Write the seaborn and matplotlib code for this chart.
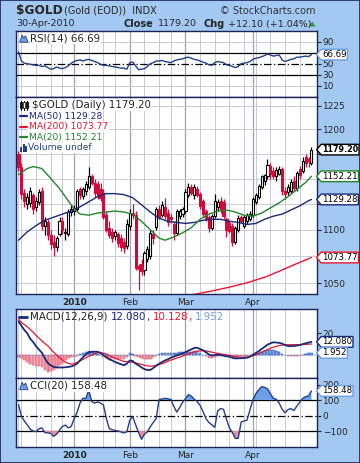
import numpy as np
import pandas as pd
import matplotlib
matplotlib.use("Agg")
import matplotlib.pyplot as plt
import seaborn as sns
from matplotlib.path import Path
from matplotlib.patches import Polygon, Rectangle

sns.set_theme(style="white")
plt.rcParams['font.family'] = ['DejaVu Sans']

# ---------------- data ----------------
all_days = pd.bdate_range("2009-12-04", "2010-04-30")
holidays = pd.to_datetime(["2009-12-25", "2010-01-01", "2010-01-18", "2010-02-15", "2010-04-02"])
dates = all_days.drop(holidays)

opens = [1175, 1162, 1136, 1125, 1126, 1134, 1122, 1127, 1138, 1104, 1107, 1095, 1088, 1084, 1096, 1108, 1097, 1096, 1117,
         1118, 1120, 1140, 1133, 1138, 1142, 1152, 1146, 1145, 1140, 1136, 1114, 1102, 1098, 1094, 1096, 1092, 1088, 1085,
         1104, 1116, 1114, 1066, 1068, 1062, 1072, 1075, 1096, 1103, 1120, 1114, 1122, 1116, 1112, 1105, 1097, 1113, 1115,
         1118, 1134, 1142, 1134, 1140, 1135, 1128, 1118, 1112, 1102, 1113, 1122, 1128, 1127, 1110, 1106, 1104, 1088, 1100,
         1112, 1104, 1108, 1110, 1114, 1127, 1132, 1142, 1148, 1152, 1163, 1158, 1152, 1155, 1160, 1138, 1137, 1138, 1148,
         1141, 1160, 1158, 1172, 1170, 1166]
highs = [1178, 1166, 1140, 1136, 1142, 1136, 1132, 1140, 1142, 1112, 1110, 1100, 1095, 1094, 1112, 1112, 1102, 1120, 1124,
         1124, 1140, 1142, 1142, 1148, 1162, 1155, 1150, 1148, 1146, 1140, 1118, 1108, 1102, 1100, 1098, 1096, 1092, 1110,
         1120, 1125, 1118, 1068, 1072, 1080, 1085, 1100, 1100, 1122, 1124, 1128, 1131, 1120, 1115, 1108, 1120, 1120, 1122,
         1140, 1146, 1145, 1145, 1143, 1137, 1130, 1120, 1114, 1115, 1135, 1130, 1132, 1130, 1112, 1108, 1106, 1104, 1114,
         1114, 1114, 1116, 1118, 1132, 1136, 1145, 1154, 1155, 1170, 1166, 1162, 1162, 1163, 1162, 1142, 1145, 1150, 1152,
         1158, 1163, 1172, 1175, 1172, 1182]
lows = [1158, 1130, 1122, 1120, 1122, 1115, 1118, 1124, 1100, 1095, 1090, 1082, 1075, 1080, 1094, 1096, 1090, 1094, 1113,
        1114, 1118, 1130, 1130, 1134, 1140, 1144, 1132, 1130, 1128, 1110, 1098, 1092, 1088, 1090, 1084, 1080, 1078, 1082,
        1100, 1110, 1062, 1044, 1058, 1058, 1070, 1072, 1086, 1100, 1110, 1112, 1110, 1104, 1106, 1090, 1095, 1110, 1112,
        1116, 1132, 1134, 1130, 1132, 1120, 1112, 1108, 1098, 1100, 1111, 1118, 1116, 1110, 1093, 1097, 1085, 1086, 1098,
        1106, 1102, 1105, 1108, 1112, 1125, 1130, 1140, 1144, 1150, 1150, 1150, 1148, 1153, 1134, 1130, 1134, 1136, 1138,
        1138, 1150, 1156, 1162, 1162, 1164]
closes = [1162, 1135, 1128, 1132, 1138, 1120, 1128, 1137, 1104, 1108, 1095, 1086, 1084, 1092, 1108, 1100, 1098, 1117, 1120,
          1121, 1138, 1134, 1140, 1145, 1152, 1146, 1136, 1133, 1131, 1112, 1100, 1095, 1092, 1098, 1087, 1084, 1083, 1105,
          1116, 1114, 1064, 1063, 1061, 1078, 1082, 1097, 1092, 1120, 1112, 1124, 1113, 1107, 1110, 1097, 1118, 1118, 1120,
          1137, 1142, 1136, 1142, 1134, 1123, 1115, 1110, 1102, 1113, 1128, 1127, 1120, 1113, 1100, 1099, 1088, 1102, 1111,
          1108, 1112, 1114, 1115, 1130, 1134, 1143, 1152, 1153, 1164, 1155, 1152, 1159, 1160, 1138, 1135, 1142, 1147, 1141,
          1156, 1153, 1168, 1166, 1167.1, 1179.2]

ma20_idx = [0, 3, 5, 8, 11, 14, 17, 19, 21, 24, 27, 30, 33, 36, 39, 42, 45, 48, 50, 53, 56, 59, 62, 65, 68, 71, 74, 77,
            80, 83, 86, 89, 92, 95, 98, 100]
ma20_val = [1154, 1160, 1162, 1160, 1150, 1140, 1128, 1120, 1115, 1114, 1116, 1117, 1118, 1117, 1115, 1108, 1100, 1092,
            1090, 1093, 1097, 1102, 1110, 1115, 1118, 1119, 1117, 1114, 1113, 1116, 1121, 1126, 1132, 1139, 1146, 1152.21]
ma50_idx = [0, 3, 6, 9, 12, 15, 18, 21, 24, 27, 30, 33, 36, 39, 42, 45, 48, 51, 54, 57, 60, 63, 66, 69, 72, 75, 78, 81,
            84, 87, 90, 93, 96, 99, 100]
ma50_val = [1090, 1098, 1104, 1109, 1112, 1115, 1118, 1122, 1127, 1132, 1135, 1135, 1134, 1131, 1124, 1117, 1111, 1108,
            1107, 1106, 1107, 1109, 1110, 1110, 1108, 1107, 1105, 1106, 1110, 1113, 1115, 1119, 1123, 1128, 1129.28]
ma200_idx = [50, 55, 60, 66, 72, 78, 84, 89, 94, 100]
ma200_val = [1036, 1038, 1040, 1043, 1046.5, 1050.5, 1055.5, 1061, 1067, 1073.77]

rsi = [72, 55, 51, 50, 49, 48, 47, 47, 45, 46, 43, 40, 41, 44, 42, 41, 43, 46, 51, 54, 56, 57, 55, 57, 58, 56, 54, 52,
       49, 47, 47, 46, 45, 44, 43, 42, 42, 40, 52, 53, 46, 39, 40, 41, 45, 50, 52, 55, 55, 56, 54, 53, 52, 55, 57, 58, 59,
       61, 62, 60, 58, 57, 55, 53, 51, 48, 47, 52, 54, 53, 52, 48, 47, 45, 43, 45, 50, 51, 52, 54, 58, 60, 61, 63, 65, 68,
       66, 64, 65, 66, 57, 54, 56, 58, 59, 62, 62, 63, 64, 63, 66.69]

macd = [31, 27, 23, 20, 15, 12, 8, 5, 2, -3, -7.5, -9.5, -11, -11.5, -11.5, -11.5, -11.3, -11, -10.5, -9.5, -8, -5, -2,
        0.5, 2.5, 3, 3, 3, 2, 0, -2, -4, -5, -6.5, -7.5, -8.5, -9.5, -8, -5, -5.5, -8, -9.5, -11.5, -13, -13.8, -13.8,
        -12, -10, -8, -6.5, -5, -4, -2.5, -1.5, -0.5, 0.5, 1.5, 2.5, 4, 5.2, 6.5, 6.7, 5.5, 4.3, 2.5, 0.5, -0.5, 0, 0.3,
        0, -0.5, -1.2, -1.5, -2.5, -3.2, -3, -3, -2.8, -2.5, -1.5, 0, 1.8, 3.5, 5.5, 7.5, 9.5, 10.8, 11.7, 11.5, 11.2,
        10.5, 9, 8.3, 8.2, 8.3, 8.7, 9.2, 10, 10.8, 11.5, 12.08]
signal = [33, 30, 28, 26, 23.5, 21, 18, 15.5, 13, 10.5, 8.5, 5.5, 2.5, 0, -2.5, -4.5, -6.5, -7.8, -8.3, -8, -6.8, -5.5,
          -4, -2.5, -1.2, 0, 1.2, 2, 2, 1.7, 1, -0.5, -2, -3, -4, -5, -6, -6.3, -6.5, -6.8, -7.3, -8, -8.7, -9.5, -10,
          -10.3, -10.2, -9.5, -8.8, -8, -7, -5.8, -4.7, -3.8, -2.8, -2, -1, 0, 1, 2, 2.8, 3.4, 3.8, 4, 3.8, 3.2, 2.6, 2,
          1.5, 1, 0.5, 0, -0.5, -1, -1.5, -1.8, -2, -2.1, -2, -1.5, -0.8, 0.3, 1.3, 2.5, 3.8, 5, 6.2, 7.2, 8, 8.7, 9.2,
          9.4, 9.5, 9.5, 9.5, 9.5, 9.5, 9.6, 9.8, 10, 10.128]

cci = [70, -5, -35, -60, -88, -100, -104, -85, -80, -110, -112, -115, -135, -120, -95, -70, -62, -80, -70, -20, 20, 80,
       111, 110, 165, 89, 80, 88, 80, 68, -20, -85, -92, -96, -100, -106, -112, -105, -29, -8, -60, -110, -154, -120,
       -105, -72, -45, -20, 104, 106, 111, 108, 104, 60, 22, 50, 85, 108, 135, 125, 105, 90, 65, 25, -20, -45, -60, -76,
       30, 45, 40, -25, -80, -110, -147, -147, -42, -35, -30, 35, 100, 140, 165, 186, 182, 172, 140, 111, 105, 80, 40,
       18, 38, 45, 32, 60, 85, 110, 122, 126, 158.48]

month_labels = ["2010", "Feb", "Mar", "Apr"]

# ---------------- styling ----------------
BG = '#a3c8f2'
NAVY = '#1b2a7a'
LINE_BLUE = '#22418a'
RED = '#e8162e'
CANDLE_RED = '#d10a3c'
GREEN = '#23862a'
LIGHTBLUE = '#6e9fe6'
GRID = '#c9cbd8'
MGRID = '#9da0b0'
LBL = 7.4   # panel label font size

W, H = 360, 463
fig = plt.figure(figsize=(W / 100, H / 100), dpi=100, facecolor=BG)


def fx(px):
    return px / W


def fy(py):
    return 1 - py / H


def panel(top, bottom):
    return fig.add_axes([fx(16), fy(bottom), fx(317) - fx(16), fy(top) - fy(bottom)])


ax_rsi = panel(31, 97)
ax_px = panel(97, 294)
ax_macd = panel(309, 378)
ax_cci = panel(378, 447)
axes = [ax_rsi, ax_px, ax_macd, ax_cci]

idx = np.arange(len(dates))
wd = np.array([d.weekday() for d in dates])
week_starts = [i for i in idx if i == 0 or wd[i] < wd[i - 1]]
month_starts = [i for i in idx if i > 0 and dates[i].month != dates[i - 1].month]

XL = (-0.85, 101.9)
for ax in axes:
    ax.set_facecolor('white')
    ax.set_xlim(*XL)
    for i in week_starts:
        if i not in month_starts:
            ax.axvline(i, color=GRID, lw=0.7, zorder=0)
    for i in month_starts:
        ax.axvline(i, color=MGRID, lw=0.9, zorder=0)
    for s in ax.spines.values():
        s.set_color('#1a2457')
        s.set_linewidth(1.0)
    ax.yaxis.tick_right()
    ax.tick_params(axis='y', which='both', direction='out', length=3, width=0.8, color='#1a2457',
                   labelsize=6.5, pad=1, left=False, right=True, labelleft=False, labelright=True)
    ax.tick_params(axis='x', length=0, labelsize=6.5, pad=3)
    ax.set_xlabel('')
    ax.set_ylabel('')


def tag_box(x0, y0, width, height, mutation_size):
    pad = 0.1 * mutation_size
    x0 -= pad
    y0 -= pad
    width += 2 * pad
    height += 2 * pad
    x1, y1 = x0 + width, y0 + height
    tip = height * 0.42
    return Path([(x0, y0), (x1, y0), (x1, y1), (x0, y1), (x0 - tip, (y0 + y1) / 2), (x0, y0)], closed=True)


def tag(ax, y, text, ec, bold=False, size=6.2):
    ax.annotate(text, xy=(1.0, y), xycoords=('axes fraction', 'data'), xytext=(3.6, 0),
                textcoords='offset points', ha='left', va='center', fontsize=size,
                fontweight='bold' if bold else 'normal', color='black', annotation_clip=False,
                bbox=dict(boxstyle=tag_box, fc='white', ec=ec, lw=1.0), zorder=10)


def mountain_icon(ax, x, y):
    pts = [(0, 0), (0.3, 1), (0.5, 0.55), (0.7, 0.9), (1, 0)]
    xs = [x + p[0] * 0.028 for p in pts]
    ys = [y + p[1] * 0.11 for p in pts]
    ax.add_patch(Polygon(list(zip(xs, ys)), closed=True, transform=ax.transAxes, fc=LIGHTBLUE,
                         ec=LINE_BLUE, lw=0.6, zorder=6, clip_on=False))


# ---------------- RSI ----------------
ax_rsi.set_ylim(-11, 110)
for v in (10, 90):
    ax_rsi.axhline(v, color=GRID, lw=0.7, zorder=0)
ax_rsi.axhline(70, color='black', lw=0.9, zorder=1)
ax_rsi.axhline(30, color='black', lw=0.9, zorder=1)
ax_rsi.axhline(50, color='black', lw=0.9, ls=(0, (6, 2, 1, 2)), zorder=1)
sns.lineplot(x=idx, y=rsi, ax=ax_rsi, color=LINE_BLUE, lw=1.0, zorder=3)
ax_rsi.set_yticks([10, 30, 50, 70, 90])
ax_rsi.set_yticklabels(['10', '30', '50', '', '90'])
ax_rsi.set_xticks([])
mountain_icon(ax_rsi, 0.012, 0.83)
ax_rsi.text(0.048, 0.885, "RSI(14) 66.69", transform=ax_rsi.transAxes, fontsize=LBL, va='center', ha='left',
            bbox=dict(fc='white', ec='none', pad=0.5), zorder=5)
tag(ax_rsi, 66.69, "66.69", LIGHTBLUE)

# ---------------- Price ----------------
ax_px.set_yscale('log')
ax_px.set_ylim(1040.3, 1234.3)
pticks = [1050, 1075, 1100, 1125, 1150, 1175, 1200, 1225]
plabels = ['1050', '', '1100', '', '', '', '1200', '1225']
ax_px.yaxis.set_major_locator(matplotlib.ticker.FixedLocator(pticks))
ax_px.yaxis.set_major_formatter(matplotlib.ticker.FixedFormatter(plabels))
ax_px.yaxis.set_minor_locator(matplotlib.ticker.NullLocator())
for t in pticks:
    ax_px.axhline(t, color=GRID, lw=0.7, zorder=0)

o = np.array(opens, float)
c = np.array(closes, float)
h = np.array(highs, float)
l = np.array(lows, float)
up = c >= o
wick_col = np.where(up, 'black', CANDLE_RED)
ax_px.vlines(idx, l, h, colors=wick_col, lw=0.9, zorder=3)
body_lo = np.minimum(o, c)
body_h = np.maximum(np.abs(c - o), 0.8)
ax_px.bar(idx[up], body_h[up], bottom=body_lo[up], width=0.72, color='white', edgecolor='black', lw=0.8, zorder=4)
ax_px.bar(idx[~up], body_h[~up], bottom=body_lo[~up], width=0.72, color=CANDLE_RED, edgecolor=CANDLE_RED, lw=0.8,
          zorder=4)

sns.lineplot(x=ma50_idx, y=ma50_val, ax=ax_px, color=NAVY, lw=1.0, zorder=5)
sns.lineplot(x=ma20_idx, y=ma20_val, ax=ax_px, color=GREEN, lw=1.0, zorder=5)
sns.lineplot(x=ma200_idx, y=ma200_val, ax=ax_px, color=RED, lw=1.0, zorder=5)

ax_px.set_xticks(month_starts)
ax_px.set_xticklabels(month_labels)
ax_px.get_xticklabels()[0].set_fontweight('bold')


def ay(py):
    return (294 - py) / (294 - 97)


def ax_x(px):
    return (px - 16) / (317 - 16)


ax_px.text(ax_x(31.5), ay(105), "$GOLD (Daily) 1179.20", transform=ax_px.transAxes, fontsize=LBL, va='center',
           ha='left', bbox=dict(fc='white', ec='none', pad=0.4), zorder=7)
for k in range(3):
    xx = ax_x(21 + k * 3)
    ax_px.plot([xx, xx], [ay(109.5), ay(100.5)], transform=ax_px.transAxes, color='black', lw=0.8, zorder=7)
    ax_px.add_patch(Rectangle((xx - 0.003, ay(108)), 0.006, (ay(102) - ay(108)), transform=ax_px.transAxes,
                              fc='black' if k != 1 else 'white', ec='black', lw=0.5, zorder=7))
leg_y = [116, 126.7, 137.3]
entries = [("MA(50) 1129.28", NAVY), ("MA(200) 1073.77", RED), ("MA(20) 1152.21", GREEN)]
for (txt, col), py in zip(entries, leg_y):
    ax_px.plot([ax_x(19.5), ax_x(27)], [ay(py), ay(py)], transform=ax_px.transAxes, color=col, lw=1.6, zorder=7)
    ax_px.text(ax_x(29), ay(py), txt, transform=ax_px.transAxes, fontsize=6.6, va='center', ha='left', color=col,
               bbox=dict(fc='white', ec='none', pad=0.4), zorder=7)
for k, hh in enumerate([5, 8, 6]):
    ax_px.add_patch(Rectangle((ax_x(20 + k * 2.5), ay(151.5)), ax_x(18) - ax_x(16),
                              ay(151.5 - hh) - ay(151.5), transform=ax_px.transAxes, fc=LINE_BLUE, ec='none',
                              zorder=7))
ax_px.text(ax_x(28.5), ay(148), "Volume undef", transform=ax_px.transAxes, fontsize=6.6, va='center', ha='left',
           color=LINE_BLUE, bbox=dict(fc='white', ec='none', pad=0.4), zorder=7)

tag(ax_px, 1073.77, "1073.77", RED)
tag(ax_px, 1129.28, "1129.28", NAVY)
tag(ax_px, 1152.21, "1152.21", GREEN)
tag(ax_px, 1179.20, "1179.20", 'black', bold=True, size=5.8)

# ---------------- MACD ----------------
ax_macd.set_ylim(-21.2, 42.4)
macd_a = np.array(macd, float)
sig_a = np.array(signal, float)
hist = macd_a - sig_a
pos = hist >= 0
ax_macd.bar(idx[pos], hist[pos], width=0.85, color='#7fa8ea', edgecolor='#2a4a9a', lw=0.35, zorder=2)
ax_macd.bar(idx[~pos], hist[~pos], width=0.85, color='#f3a2ad', edgecolor='#d8405a', lw=0.35, zorder=2)
ax_macd.axhline(0, color=LIGHTBLUE, lw=0.9, ls=':', zorder=2)
sns.lineplot(x=idx, y=signal, ax=ax_macd, color=RED, lw=0.9, zorder=3)
sns.lineplot(x=idx, y=macd, ax=ax_macd, color=NAVY, lw=1.3, zorder=4)
ax_macd.set_yticks([0, 20])
ax_macd.set_yticklabels(['', '20'])
ax_macd.set_xticks([])
ax_macd.plot([0.01, 0.036], [0.885, 0.885], transform=ax_macd.transAxes, color=NAVY, lw=2.0, zorder=6)
t1 = ax_macd.text(0.048, 0.885, "MACD(12,26,9) ", transform=ax_macd.transAxes, fontsize=LBL, va='center',
                  ha='left', zorder=6)
pieces = [("12.080", NAVY), (", ", NAVY), ("10.128", RED), (", ", RED), ("1.952", LIGHTBLUE)]
prev = t1
for txt, col in pieces:
    prev = ax_macd.annotate(txt, xy=(1, 0), xycoords=prev, va='bottom', ha='left', fontsize=LBL, color=col,
                            zorder=6)
tag(ax_macd, 12.08, "12.080", NAVY)
tag(ax_macd, 1.952, "1.952", LIGHTBLUE)

# ---------------- CCI ----------------
ax_cci.set_ylim(-203, 242)
cci_a = np.array(cci, float)
ax_cci.fill_between(idx, cci_a, 100, where=cci_a > 100, interpolate=True, color='#6e9fe6', lw=0, zorder=2)
ax_cci.fill_between(idx, cci_a, -100, where=cci_a < -100, interpolate=True, color='#ec8d9b', lw=0, zorder=2)
ax_cci.axhline(100, color='black', lw=0.9, zorder=1)
ax_cci.axhline(-100, color='black', lw=0.9, zorder=1)
ax_cci.axhline(0, color='black', lw=0.9, ls=(0, (6, 2, 1, 2)), zorder=1)
sns.lineplot(x=idx, y=cci, ax=ax_cci, color=LINE_BLUE, lw=1.0, zorder=3)
ax_cci.set_yticks([-100, 0, 100, 200])
ax_cci.set_xticks(month_starts)
ax_cci.set_xticklabels(month_labels)
ax_cci.get_xticklabels()[0].set_fontweight('bold')
mountain_icon(ax_cci, 0.012, 0.83)
ax_cci.text(0.048, 0.885, "CCI(20) 158.48", transform=ax_cci.transAxes, fontsize=LBL, va='center', ha='left',
            bbox=dict(fc='white', ec='none', pad=0.5), zorder=5)
tag(ax_cci, 158.48, "158.48", LIGHTBLUE)

# ---------------- header ----------------
fig.text(fx(16), fy(10.5), "$GOLD", fontsize=8.7, fontweight='bold', va='center', ha='left')
fig.text(fx(63.5), fy(10.5), "(Gold (EOD))  INDX", fontsize=7, va='center', ha='left')
fig.text(fx(315), fy(10.5), "© StockCharts.com", fontsize=7, va='center', ha='right', color='#333333')
fig.text(fx(16), fy(24), "30-Apr-2010", fontsize=6.8, va='center', ha='left')
fig.text(fx(123), fy(24), "Close", fontsize=7, fontweight='bold', va='center', ha='left')
fig.text(fx(158), fy(24), "1179.20", fontsize=6.8, va='center', ha='left')
fig.text(fx(203), fy(24), "Chg", fontsize=7, fontweight='bold', va='center', ha='left')
fig.text(fx(228), fy(24), "+12.10 (+1.04%)", fontsize=6.8, va='center', ha='left')
fig.patches.append(Polygon([(fx(309), fy(26.5)), (fx(315.5), fy(26.5)), (fx(312.25), fy(21.5))], closed=True,
                           transform=fig.transFigure, fc='#2e9a3a', ec='none'))
fig.patches.append(Rectangle((0.001, 0.001), 0.998, 0.998, transform=fig.transFigure, fill=False,
                             ec='#1a2457', lw=1.2))

fig.savefig("out.png", dpi=100, facecolor=BG)
